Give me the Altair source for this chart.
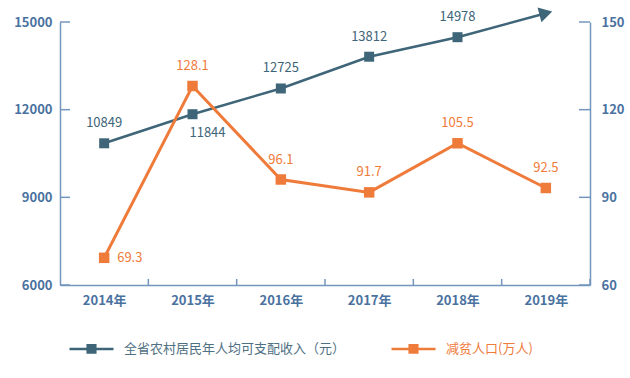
import altair as alt
import pandas as pd

# ---------------- data ----------------
years = ["2014年", "2015年", "2016年", "2017年", "2018年", "2019年"]
income = [10849, 11844, 12725, 13812, 14978]          # labels, 2014-2018
# heights at which the reference draws the income markers (read off the picture;
# the 2018 marker sits lower than its label value)
income_drawn = [10849, 11844, 12725, 13812, 14480]
income_arrow_2019 = 15300                              # arrow head end (no label)
poverty = [69.3, 128.1, 96.1, 91.7, 105.5, 92.5]       # labels, 2014-2019
# heights at which the reference draws the poverty markers
poverty_drawn = [69.3, 128.1, 96.1, 91.7, 108.5, 93.2]
left_ticks = [6000, 9000, 12000, 15000]
right_ticks = [60, 90, 120, 150]
series_names = ["全省农村居民年人均可支配收入（元）", "减贫人口(万人)"]

# ---------------- styles ----------------
BLUE = "#3e6578"
ORANGE = "#ef7b3b"
AXIS = "#7396bd"
LABEL = "#4a72a0"
FONT = "Noto Sans CJK SC"

inc_df = pd.DataFrame({"year": years[:5], "v": income_drawn,
                       "label": [str(v) for v in income]})
inc_line_df = pd.DataFrame({"year": years, "v": income_drawn + [income_arrow_2019],
                            "series": series_names[0]})
arrow_df = pd.DataFrame({"year": [years[-1]], "v": [income_arrow_2019]})
pov_df = pd.DataFrame({"year": years, "v": poverty_drawn,
                       "label": [f"{v:.1f}" for v in poverty],
                       "series": series_names[1]})
lt_df = pd.DataFrame({"v": left_ticks})
rt_df = pd.DataFrame({"v": right_ticks})
yr_df = pd.DataFrame({"year": years})

xs = alt.Scale(type="band", domain=years, paddingInner=0, paddingOuter=0)
x_axis = alt.Axis(title=None, tickBand="extent", tickSize=0, labelPadding=9,
                  labelColor=LABEL, labelFont=FONT, labelFontSize=13,
                  labelFontWeight="bold", domainColor=AXIS, domainWidth=1.5,
                  grid=False, labelAngle=0)
X = alt.X("year:N", scale=xs, axis=x_axis)

yb_scale = alt.Scale(domain=[6000, 15000], nice=False, zero=False)
yo_scale = alt.Scale(domain=[60, 150], nice=False, zero=False)

YB = alt.Y("v:Q", scale=yb_scale,
           axis=alt.Axis(orient="left", values=left_ticks, format="d", title=None,
                         tickSize=0, labelPadding=8, labelColor=LABEL, labelFont=FONT,
                         labelFontSize=13, labelFontWeight="bold",
                         domainColor=AXIS, domainWidth=1.5, grid=False))
YO = alt.Y("v:Q", scale=yo_scale,
           axis=alt.Axis(orient="right", values=right_ticks, format="d", title=None,
                         tickSize=0, labelPadding=11, labelColor=LABEL, labelFont=FONT,
                         labelFontSize=13, labelFontWeight="bold",
                         domainColor=AXIS, domainWidth=1.5, grid=False))

SYM = ("M-1,0H1"
       "M-0.23,-0.17H0.23M-0.23,-0.085H0.23M-0.23,0H0.23"
       "M-0.23,0.085H0.23M-0.23,0.17H0.23")
color_scale = alt.Scale(domain=series_names, range=[BLUE, ORANGE])
legend_def = alt.Legend(
    orient="none", legendX=8, legendY=303, direction="horizontal", title=None,
    symbolType=SYM, symbolSize=1936, symbolStrokeWidth=2.5,
    labelFont=FONT, labelFontSize=13, labelOffset=9, columnPadding=40,
    padding=0, labelLimit=400,
    labelColor=alt.ExprRef(expr=f"datum.value === '{series_names[1]}' ? '{ORANGE}' : '#4f6f82'"),
)
COLOR = alt.Color("series:N", scale=color_scale, legend=legend_def)

# ---------------- income (left axis) ----------------
b_line = alt.Chart(inc_line_df).mark_line(strokeWidth=2.5).encode(x=X, y=YB, color=COLOR)
b_pts = alt.Chart(inc_df).mark_square(size=100, color=BLUE, opacity=1).encode(x=X, y=YB)
b_arrow = alt.Chart(arrow_df).mark_point(shape="triangle-right", filled=True, size=230,
                                        angle=345, color=BLUE, opacity=1).encode(x=X, y=YB)
b_lab = alt.Chart(inc_df).transform_filter("datum.year !== '2015年'").mark_text(
    dy=-20, fontSize=13, font=FONT, color=BLUE).encode(x=X, y=YB, text="label:N")
b_lab2 = alt.Chart(inc_df).transform_filter("datum.year === '2015年'").mark_text(
    dy=19, dx=15, fontSize=13, font=FONT, color=BLUE).encode(x=X, y=YB, text="label:N")
b_ticks = alt.Chart(lt_df).mark_rule(color=AXIS, strokeWidth=1.5).encode(
    y=YB, x=alt.value(0), x2=alt.value(10))
x_ticks = alt.Chart(yr_df).mark_rule(color=AXIS, strokeWidth=1.5).encode(
    x=alt.X("year:N", scale=xs, axis=x_axis, bandPosition=1),
    y=alt.value(257), y2=alt.value(263))

blue = alt.layer(b_ticks, x_ticks, b_line, b_pts, b_arrow, b_lab, b_lab2)

# ---------------- poverty reduction (right axis) ----------------
o_line = alt.Chart(pov_df).mark_line(strokeWidth=3).encode(x=X, y=YO, color=COLOR)
o_pts = alt.Chart(pov_df).mark_square(size=110, color=ORANGE, opacity=1).encode(x=X, y=YO)
o_lab = alt.Chart(pov_df).transform_filter("datum.year !== '2014年'").mark_text(
    dy=-20, fontSize=13, font=FONT, color=ORANGE).encode(x=X, y=YO, text="label:N")
o_lab2 = alt.Chart(pov_df).transform_filter("datum.year === '2014年'").mark_text(
    dx=13, align="left", fontSize=13, font=FONT, color=ORANGE).encode(x=X, y=YO, text="label:N")
o_ticks = alt.Chart(rt_df).mark_rule(color=AXIS, strokeWidth=1.5).encode(
    y=YO, x=alt.value(519), x2=alt.value(530))

orange = alt.layer(o_ticks, o_line, o_pts, o_lab, o_lab2)

chart = alt.layer(blue, orange).resolve_scale(y="independent").properties(
    width=530, height=263,
    padding={"left": 60, "top": 22, "right": 40, "bottom": 93},
    autosize=alt.AutoSizeParams(type="none"),
    background="white",
).configure_view(stroke=None)

chart.save("out.html", embed_options={"renderer": "svg", "actions": False})
